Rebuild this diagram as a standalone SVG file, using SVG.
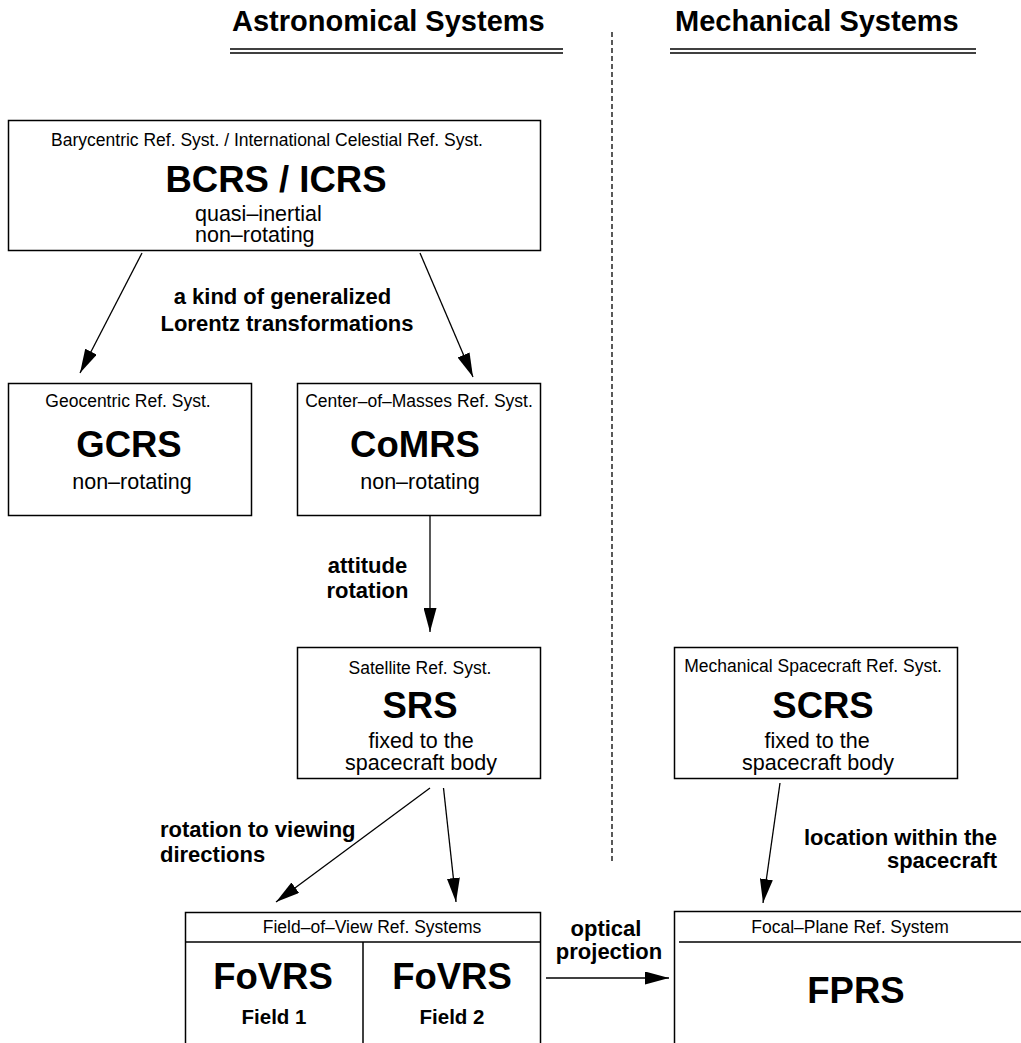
<svg xmlns="http://www.w3.org/2000/svg" width="1021" height="1043" viewBox="0 0 1021 1043">
<defs>
<marker id="ah" markerUnits="userSpaceOnUse" markerWidth="24" markerHeight="13" refX="24" refY="6.5" orient="auto"><path d="M0,0 L24,6.5 L0,13 z" fill="#000"/></marker>
<style>
.box{fill:#fff;stroke:#000;stroke-width:1.5}
.ln{stroke:#000;stroke-width:1.5;fill:none}
.edge{stroke:#000;stroke-width:1.3;fill:none;marker-end:url(#ah)}
text{font-family:"Liberation Sans",Arial,sans-serif;fill:#000}
.ttl{font-size:29px;font-weight:bold}
.hd{font-size:17.5px;text-anchor:middle}
.big{font-size:36.5px;font-weight:bold;text-anchor:middle}
.sub{font-size:21.5px;text-anchor:middle}
.lbl{font-size:22px;font-weight:bold}
.fld{font-size:20.5px;font-weight:bold;text-anchor:middle}
</style>
</defs>
<rect width="1021" height="1043" fill="#fff"/>
<g id="titles">
<text class="ttl" x="232" y="31">Astronomical Systems</text>
<line class="ln" x1="230" y1="49" x2="563" y2="49"/>
<line class="ln" x1="230" y1="53" x2="563" y2="53"/>
<text class="ttl" x="675" y="31">Mechanical Systems</text>
<line class="ln" x1="670" y1="49" x2="976" y2="49"/>
<line class="ln" x1="670" y1="53" x2="976" y2="53"/>
<line x1="612" y1="32" x2="612" y2="862" stroke="#000" stroke-width="1.3" stroke-dasharray="5,3"/>
</g>
<g id="bcrs">
<rect class="box" x="8.5" y="120.5" width="532" height="130"/>
<text class="hd" x="267" y="146">Barycentric Ref. Syst. / International Celestial Ref. Syst.</text>
<text class="big" x="276" y="192">BCRS / ICRS</text>
<text class="sub" x="195" y="221" style="text-anchor:start">quasi–inertial</text>
<text class="sub" x="195" y="242" style="text-anchor:start">non–rotating</text>
</g>
<g id="gcrs">
<rect class="box" x="8.5" y="383.5" width="243" height="132"/>
<text class="hd" x="128" y="407">Geocentric Ref. Syst.</text>
<text class="big" x="129" y="457">GCRS</text>
<text class="sub" x="132" y="489">non–rotating</text>
</g>
<g id="comrs">
<rect class="box" x="297.5" y="383.5" width="243" height="132"/>
<text class="hd" x="419" y="407">Center–of–Masses Ref. Syst.</text>
<text class="big" x="415" y="457">CoMRS</text>
<text class="sub" x="420" y="489">non–rotating</text>
</g>
<g id="srs">
<rect class="box" x="297.5" y="647.5" width="243" height="131"/>
<text class="hd" x="420" y="674">Satellite Ref. Syst.</text>
<text class="big" x="420" y="718">SRS</text>
<text class="sub" x="421" y="748">fixed to the</text>
<text class="sub" x="421" y="770">spacecraft body</text>
</g>
<g id="scrs">
<rect class="box" x="674.5" y="647.5" width="283" height="131"/>
<text class="hd" x="813" y="672">Mechanical Spacecraft Ref. Syst.</text>
<text class="big" x="823" y="718">SCRS</text>
<text class="sub" x="817" y="748">fixed to the</text>
<text class="sub" x="818" y="770">spacecraft body</text>
</g>
<g id="fovrs">
<rect class="box" x="185.5" y="912.5" width="355" height="140"/>
<line class="ln" x1="185" y1="942" x2="541" y2="942"/>
<line class="ln" x1="363" y1="942" x2="363" y2="1050"/>
<text class="hd" x="372" y="933">Field–of–View Ref. Systems</text>
<text class="big" x="273" y="989">FoVRS</text>
<text class="big" x="452" y="989">FoVRS</text>
<text class="fld" x="274" y="1024">Field 1</text>
<text class="fld" x="452" y="1024">Field 2</text>
</g>
<g id="fprs">
<rect class="box" x="674.5" y="911.5" width="360" height="140"/>
<line class="ln" x1="679" y1="942" x2="1030" y2="942"/>
<text class="hd" x="850" y="933">Focal–Plane Ref. System</text>
<text class="big" x="856" y="1003">FPRS</text>
</g>
<g id="connectors">
<line class="edge" x1="142" y1="253" x2="80" y2="373"/>
<line class="edge" x1="420" y1="253" x2="473" y2="377"/>
<line class="edge" x1="430" y1="516" x2="430" y2="632"/>
<line class="edge" x1="430" y1="788" x2="276" y2="902"/>
<line class="edge" x1="443.5" y1="788" x2="456" y2="902"/>
<line class="edge" x1="780" y1="783" x2="763" y2="903"/>
<line class="edge" x1="546" y1="978" x2="669" y2="978"/>
<text class="lbl" x="282.5" y="304" text-anchor="middle">a kind of generalized</text>
<text class="lbl" x="287" y="331" text-anchor="middle">Lorentz transformations</text>
<text class="lbl" x="367.5" y="573" text-anchor="middle">attitude</text>
<text class="lbl" x="367.5" y="598" text-anchor="middle">rotation</text>
<text class="lbl" x="160" y="837">rotation to viewing</text>
<text class="lbl" x="160" y="862">directions</text>
<text class="lbl" x="997" y="845" text-anchor="end">location within the</text>
<text class="lbl" x="997" y="868" text-anchor="end">spacecraft</text>
<text class="lbl" x="606" y="936" text-anchor="middle">optical</text>
<text class="lbl" x="609" y="959" text-anchor="middle">projection</text>
</g>
</svg>
